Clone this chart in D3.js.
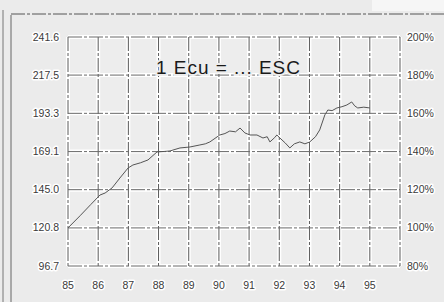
<meta charset="utf-8">
<style>
	body { margin: 0; background: #ebebeb; }
	svg { display: block; }
	.lbl { font-family: "Liberation Sans", Arial, sans-serif; font-size: 10.5px; fill: #3a3a3a;
		paint-order: stroke; stroke: #fff; stroke-width: 3px; stroke-linejoin: round; }
</style>
<body>
<svg id="svg"></svg>
<script src="https://cdn.jsdelivr.net/npm/d3@7/dist/d3.min.js"></script>
<script>

// DATA
var years = [85, 86, 87, 88, 89, 90, 91, 92, 93, 94, 95]
var leftTicks = [96.7, 120.8, 145.0, 169.1, 193.3, 217.5, 241.6]
var rightTicks = [80, 100, 120, 140, 160, 180, 200]
var title = "1 Ecu = ... ESC"

// decimal year, escudos per ecu
var dates = [85.0, 85.4, 85.75, 86.06, 86.23, 86.46, 86.72, 86.99, 87.15, 87.4, 87.65, 87.95,
	88.2, 88.38, 88.71, 89.04, 89.37, 89.55, 89.7, 90.03, 90.2, 90.36, 90.55, 90.7, 90.86,
	91.03, 91.26, 91.46, 91.6, 91.69, 91.85, 91.92, 92.02, 92.2, 92.35, 92.5, 92.68, 92.85,
	93.01, 93.2, 93.34, 93.51, 93.61, 93.75, 93.91, 94.08, 94.24, 94.4, 94.5, 94.6, 94.8, 95.0]
var values = [120.8, 128.5, 135.5, 141.6, 142.9, 146.1, 152.4, 158.7, 160.6, 162.0, 163.8, 168.9,
	169.2, 169.5, 171.4, 172.0, 173.3, 174.0, 175.2, 179.6, 180.5, 182.1, 181.6, 184.0, 180.9,
	179.6, 179.6, 177.7, 178.5, 175.2, 178.0, 179.6, 177.7, 174.5, 171.4, 174.0, 175.2, 174.0,
	175.2, 178.5, 182.8, 192.3, 195.4, 195.0, 196.7, 197.5, 198.6, 200.5, 198.0, 196.7, 197.2, 196.7]

// CANVAS
var width = 444
var height = 302
var plot = { left: 68, right: 400, top: 37, bottom: 266 }

var svg = d3.select( '#svg' )
	.attr( 'width', width )
	.attr( 'height', height )

// frame of the scanned page
svg.append( 'rect' ).attr( 'x', 372 ).attr( 'y', 0 ).attr( 'width', 72 ).attr( 'height', 11 ).attr( 'fill', '#f6f6f6' )
svg.append( 'line' ).attr( 'x1', 3 ).attr( 'x2', 3 ).attr( 'y1', 10 ).attr( 'y2', height ).attr( 'stroke', '#777' )
svg.append( 'line' ).attr( 'x1', 11 ).attr( 'x2', 11 ).attr( 'y1', 15 ).attr( 'y2', height ).attr( 'stroke', '#666' )
svg.append( 'line' ).attr( 'x1', 11 ).attr( 'x2', width ).attr( 'y1', 14 ).attr( 'y2', 14 ).attr( 'stroke', '#555' )
	.attr( 'stroke-dasharray', '14,2,3,2' )

// SCALES
var x = d3.scaleLinear().domain([ 85, 96 ]).range([ plot.left, plot.right ])
var y = d3.scaleLinear().domain([ 96.7, 241.6 ]).range([ plot.bottom, plot.top ])
var yr = d3.scaleLinear().domain([ 80, 200 ]).range([ plot.bottom, plot.top ])

// plot background
svg.append( 'rect' )
	.attr( 'x', plot.left ).attr( 'y', plot.top )
	.attr( 'width', plot.right - plot.left ).attr( 'height', plot.bottom - plot.top )
	.attr( 'fill', '#ededed' )

// GRID (white halo, then dark dashed line)
var xGrid = years.concat([ 96 ])
var grid = svg.append( 'g' )
grid.selectAll( '.vh' ).data( xGrid ).enter().append( 'line' )
	.attr( 'x1', d => x( d )).attr( 'x2', d => x( d ))
	.attr( 'y1', plot.top ).attr( 'y2', plot.bottom )
	.attr( 'stroke', '#fff' ).attr( 'stroke-width', 4 )
grid.selectAll( '.hh' ).data( leftTicks ).enter().append( 'line' )
	.attr( 'x1', plot.left ).attr( 'x2', plot.right )
	.attr( 'y1', d => y( d )).attr( 'y2', d => y( d ))
	.attr( 'stroke', '#fff' ).attr( 'stroke-width', 4 )
grid.selectAll( '.v' ).data( xGrid ).enter().append( 'line' )
	.attr( 'x1', d => x( d )).attr( 'x2', d => x( d ))
	.attr( 'y1', plot.top ).attr( 'y2', plot.bottom )
	.attr( 'stroke', '#5a5a5a' ).attr( 'stroke-dasharray', '14,2,3,2' )
grid.selectAll( '.h' ).data( leftTicks ).enter().append( 'line' )
	.attr( 'x1', plot.left ).attr( 'x2', plot.right )
	.attr( 'y1', d => y( d )).attr( 'y2', d => y( d ))
	.attr( 'stroke', '#6a6a6a' ).attr( 'stroke-dasharray', '14,2,3,2' )

// AXES LABELS
svg.append( 'g' ).selectAll( 'text' ).data( leftTicks ).enter().append( 'text' )
	.attr( 'class', 'lbl' )
	.attr( 'x', plot.left - 9 ).attr( 'y', d => y( d ) + 3.5 )
	.attr( 'text-anchor', 'end' )
	.text( d => d.toFixed( 1 ))

svg.append( 'g' ).selectAll( 'text' ).data( rightTicks ).enter().append( 'text' )
	.attr( 'class', 'lbl' )
	.attr( 'x', plot.right + 7 ).attr( 'y', d => yr( d ) + 3.5 )
	.text( d => d + '%' )

svg.append( 'g' ).selectAll( 'text' ).data( years ).enter().append( 'text' )
	.attr( 'class', 'lbl' )
	.attr( 'x', d => x( d )).attr( 'y', plot.bottom + 23 )
	.attr( 'text-anchor', 'middle' )
	.text( d => d )

// TITLE
svg.append( 'text' )
	.attr( 'x', 156 ).attr( 'y', 74 )
	.attr( 'textLength', 144 )
	.style( 'font-family', '"Liberation Sans", Arial, sans-serif' )
	.style( 'font-size', '19px' )
	.style( 'fill', '#1a1a1a' )
	.style( 'paint-order', 'stroke' )
	.style( 'stroke', '#ededed' )
	.style( 'stroke-width', '4px' )
	.text( title )

// LINE
var points = dates.map(( d, i ) => [ d, values[ i ]])
svg.append( 'path' )
	.datum( points )
	.attr( 'fill', 'none' )
	.attr( 'stroke', '#555' )
	.attr( 'stroke-width', 1 )
	.attr( 'd', d3.line().x( d => x( d[ 0 ])).y( d => y( d[ 1 ])))

</script>
</body>
